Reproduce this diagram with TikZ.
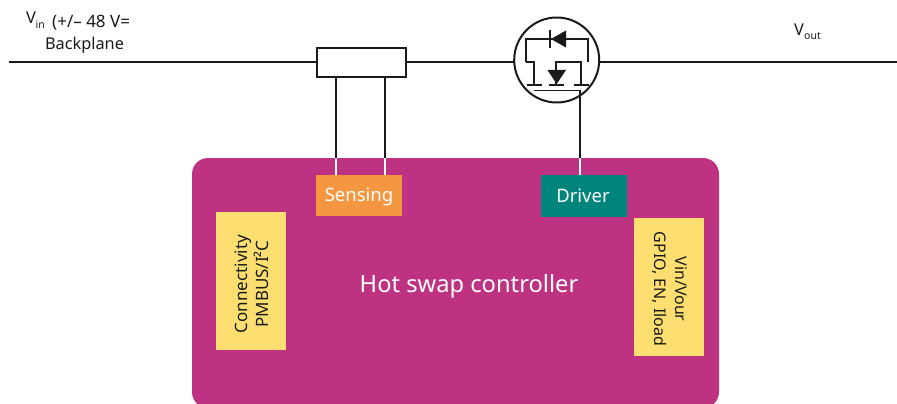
\documentclass[tikz,border=0pt]{standalone}
\usepackage{fontspec}
\setmainfont{Noto Sans}
\definecolor{ctrl}{HTML}{BE3282}
\definecolor{sens}{HTML}{F59740}
\definecolor{drv}{HTML}{00857C}
\definecolor{conn}{HTML}{FCDF70}
\definecolor{ink}{HTML}{1A1A1A}
\begin{document}
\begin{tikzpicture}[x=1pt,y=-1pt,
  wire/.style={draw=ink,line width=2pt},
  thinwire/.style={draw=white,line width=2pt},
  fet/.style={draw=ink,line width=1.9pt},
  blockbox/.style={anchor=center,inner sep=0pt,outer sep=0pt,text=white,font=\fontsize{18.5}{22}\selectfont},
  yellowbox/.style={fill=conn,minimum width=70pt,minimum height=138pt,inner sep=0pt,outer sep=0pt},
  sidetext/.style={text=ink,align=center,inner sep=0pt},
  lab/.style={text=ink,inner sep=0pt,font=\fontsize{16.3}{21}\selectfont},
  sublab/.style={text=ink,inner sep=0pt,font=\fontsize{10.5}{12}\selectfont}]
\useasboundingbox (0,0) rectangle (897,404);
\clip (0,0) rectangle (897,404);
% controller
\node[fill=ctrl,rounded corners=16pt,minimum width=527pt,minimum height=250pt,inner sep=0pt,outer sep=0pt] (ctrl) at (455.5,283) {};
\node[text=white,inner sep=0pt,font=\fontsize{23.7}{28}\selectfont,anchor=base] (hot) at (469,292) {Hot swap controller};
\node[blockbox,fill=sens,minimum width=86pt,minimum height=41pt] (sensing) at (359,195.5) {};
\node[blockbox,anchor=base] (senslab) at (359,201) {Sensing};
\node[blockbox,fill=drv,minimum width=86pt,minimum height=42pt] (driver) at (584,196) {};
\node[blockbox,anchor=base] (drvlab) at (583,202) {Driver};
\node[yellowbox] (left) at (251,281) {};
\node[sidetext,rotate=90,font=\fontsize{17}{21.5}\selectfont] (lefttext) at (252,284) {Connectivity\\PMBUS/I²C};
\node[yellowbox] (right) at (669,287) {};
\node[sidetext,rotate=-90,font=\fontsize{16}{21}\selectfont] (righttext) at (670,289) {Vin/Vour\\GPIO, EN, Iload};
% main line
\coordinate (in) at (9,62);
\coordinate (out) at (897,62);
\node[draw=ink,line width=2pt,fill=white,minimum width=89pt,minimum height=29.5pt,inner sep=0pt,outer sep=0pt] (res) at (361.5,62.3) {};
\node[circle,draw=ink,line width=2pt,fill=white,minimum size=85pt,inner sep=0pt,outer sep=0pt] (mos) at (556.7,60) {};
\draw[wire] (in) -- (res.west |- in);
\draw[wire] (res.east |- out) -- (mos.west |- out);
\draw[wire] (mos.east |- out) -- (out);
% sense wires
\coordinate (s1) at (336,158);
\coordinate (s2) at (385,158);
\coordinate (s1b) at (336,175);
\coordinate (s2b) at (385,175);
\draw[wire] (336,77) -- (s1);
\draw[wire] (385,77) -- (s2);
\draw[thinwire] (s1) -- (s1b);
\draw[thinwire] (s2) -- (s2b);
% mosfet
\draw[fet] (526,62) -- (526,39) -- (588,39) -- (588,62);
\fill[ink] (566,30.5) -- (566,47.5) -- (551,39) -- cycle;
\draw[fet] (550,30) -- (550,48);
\draw[fet] (526,62) -- (534,62) -- (534,85);
\draw[fet] (527,85) -- (542,85);
\draw[fet] (556,85) -- (556,62) -- (581,62) -- (581,85);
\draw[fet] (549,85) -- (564,85);
\draw[fet] (574,85) -- (589,85);
\fill[ink] (547.5,70) -- (566,70) -- (556.7,84) -- cycle;
\draw[fet] (534,90.5) -- (581,90.5);
\coordinate (gate) at (580,158);
\coordinate (gateb) at (580,175);
\draw[wire] (580,90) -- (gate);
\draw[thinwire] (gate) -- (gateb);
% labels
\node[lab,anchor=base west] (vin) at (26,24) {V};
\node[sublab,anchor=base west] (vinsub) at (35.5,29) {in};
\node[lab,anchor=base west,font=\fontsize{17}{21}\selectfont] (vinrest) at (52,28) {(+/– 48 V=};
\node[lab,anchor=base] (bp) at (84.5,49.5) {Backplane};
\node[lab,anchor=base west] (vout) at (794,36) {V};
\node[sublab,anchor=base west] (voutsub) at (804,40) {out};
\end{tikzpicture}
\end{document}
